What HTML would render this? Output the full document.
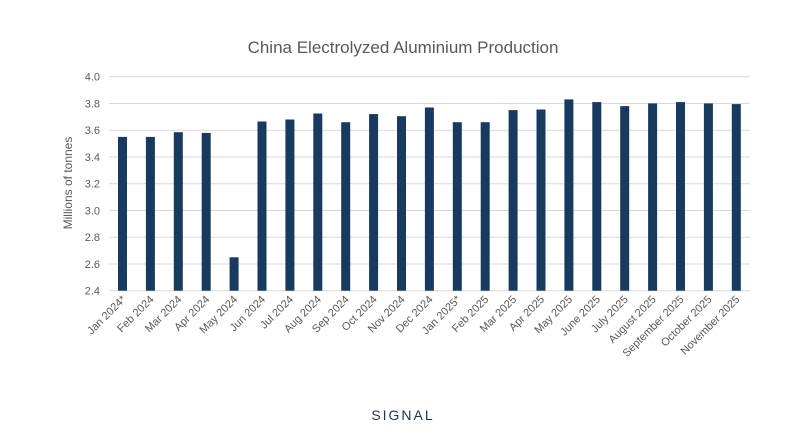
<!DOCTYPE html>
<html><head><style>body{margin:0;background:#fff}</style></head><body>
<svg width="787" height="435" xmlns="http://www.w3.org/2000/svg" font-family="Liberation Sans, sans-serif">
<rect width="787" height="435" fill="#fff"/>
<text x="403" y="53" text-anchor="middle" font-size="17" fill="#595959">China Electrolyzed Aluminium Production</text>
<g stroke="#d9d9d9" stroke-width="1">
<line x1="109" x2="750" y1="290.7" y2="290.7"/><line x1="109" x2="750" y1="263.95" y2="263.95"/><line x1="109" x2="750" y1="237.2" y2="237.2"/><line x1="109" x2="750" y1="210.45" y2="210.45"/><line x1="109" x2="750" y1="183.7" y2="183.7"/><line x1="109" x2="750" y1="156.95" y2="156.95"/><line x1="109" x2="750" y1="130.2" y2="130.2"/><line x1="109" x2="750" y1="103.45" y2="103.45"/><line x1="109" x2="750" y1="76.7" y2="76.7"/>
</g>
<g font-size="11" fill="#595959" text-anchor="end">
<text x="100" y="294.7">2.4</text><text x="100" y="268">2.6</text><text x="100" y="241.2">2.8</text><text x="100" y="214.5">3.0</text><text x="100" y="187.7">3.2</text><text x="100" y="161">3.4</text><text x="100" y="134.2">3.6</text><text x="100" y="107.5">3.8</text><text x="100" y="80.7">4.0</text>
</g>
<g fill="#173a5e">
<rect x="118" y="136.9" width="9" height="153.8"/>
<rect x="145.9" y="136.9" width="9" height="153.8"/>
<rect x="173.8" y="132.2" width="9" height="158.5"/>
<rect x="201.7" y="132.9" width="9" height="157.8"/>
<rect x="229.6" y="257.3" width="9" height="33.4"/>
<rect x="257.5" y="121.5" width="9" height="169.2"/>
<rect x="285.4" y="119.5" width="9" height="171.2"/>
<rect x="313.3" y="113.5" width="9" height="177.2"/>
<rect x="341.2" y="122.2" width="9" height="168.5"/>
<rect x="369.1" y="114.1" width="9" height="176.6"/>
<rect x="397" y="116.2" width="9" height="174.5"/>
<rect x="424.9" y="107.5" width="9" height="183.2"/>
<rect x="452.8" y="122.2" width="9" height="168.5"/>
<rect x="480.7" y="122.2" width="9" height="168.5"/>
<rect x="508.6" y="110.1" width="9" height="180.6"/>
<rect x="536.5" y="109.5" width="9" height="181.2"/>
<rect x="564.4" y="99.4" width="9" height="191.3"/>
<rect x="592.3" y="102.1" width="9" height="188.6"/>
<rect x="620.2" y="106.1" width="9" height="184.6"/>
<rect x="648.1" y="103.4" width="9" height="187.3"/>
<rect x="676" y="102.1" width="9" height="188.6"/>
<rect x="703.9" y="103.4" width="9" height="187.3"/>
<rect x="731.8" y="104.1" width="9" height="186.6"/>
</g>
<g font-size="11" fill="#595959" text-anchor="end">
<text x="126.5" y="300" transform="rotate(-45 126.5 300)">Jan 2024*</text>
<text x="154.4" y="300" transform="rotate(-45 154.4 300)">Feb 2024</text>
<text x="182.3" y="300" transform="rotate(-45 182.3 300)">Mar 2024</text>
<text x="210.2" y="300" transform="rotate(-45 210.2 300)">Apr 2024</text>
<text x="238.1" y="300" transform="rotate(-45 238.1 300)">May 2024</text>
<text x="266" y="300" transform="rotate(-45 266 300)">Jun 2024</text>
<text x="293.9" y="300" transform="rotate(-45 293.9 300)">Jul 2024</text>
<text x="321.8" y="300" transform="rotate(-45 321.8 300)">Aug 2024</text>
<text x="349.7" y="300" transform="rotate(-45 349.7 300)">Sep 2024</text>
<text x="377.6" y="300" transform="rotate(-45 377.6 300)">Oct 2024</text>
<text x="405.5" y="300" transform="rotate(-45 405.5 300)">Nov 2024</text>
<text x="433.4" y="300" transform="rotate(-45 433.4 300)">Dec 2024</text>
<text x="461.3" y="300" transform="rotate(-45 461.3 300)">Jan 2025*</text>
<text x="489.2" y="300" transform="rotate(-45 489.2 300)">Feb 2025</text>
<text x="517.1" y="300" transform="rotate(-45 517.1 300)">Mar 2025</text>
<text x="545" y="300" transform="rotate(-45 545 300)">Apr 2025</text>
<text x="572.9" y="300" transform="rotate(-45 572.9 300)">May 2025</text>
<text x="600.8" y="300" transform="rotate(-45 600.8 300)">June 2025</text>
<text x="628.7" y="300" transform="rotate(-45 628.7 300)">July 2025</text>
<text x="656.6" y="300" transform="rotate(-45 656.6 300)">August 2025</text>
<text x="684.5" y="300" transform="rotate(-45 684.5 300)">September 2025</text>
<text x="712.4" y="300" transform="rotate(-45 712.4 300)">October 2025</text>
<text x="740.3" y="300" transform="rotate(-45 740.3 300)">November 2025</text>
</g>
<text x="72" y="183" transform="rotate(-90 72 183)" text-anchor="middle" font-size="12" fill="#595959">Millions of tonnes</text>
<text x="403" y="420" text-anchor="middle" font-size="14" fill="#1b3550" letter-spacing="2">SIGNAL</text>
</svg>
</body></html>
